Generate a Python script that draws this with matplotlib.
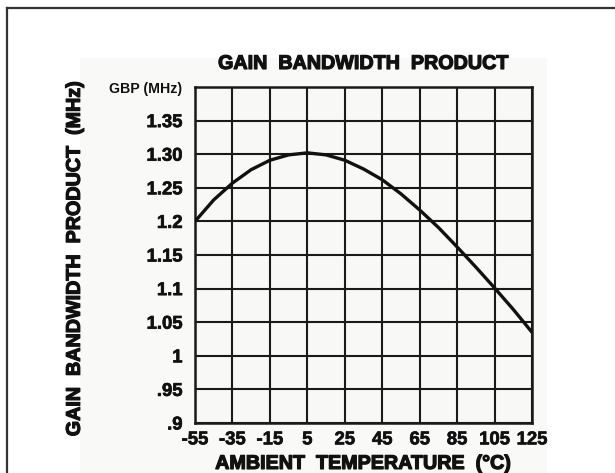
import matplotlib
matplotlib.use("Agg")
import matplotlib.pyplot as plt
import matplotlib.patheffects as pe
from matplotlib.patches import Rectangle

# values
temp_c = [-55, -45, -35, -25, -15, -5, 5, 15, 25, 35, 45, 55, 65, 75, 85, 95, 105, 115, 125]
gbp_mhz = [1.200, 1.232, 1.257, 1.277, 1.291, 1.299, 1.302, 1.299, 1.291, 1.278,
           1.262, 1.241, 1.217, 1.191, 1.162, 1.132, 1.101, 1.069, 1.035]

x_ticks = [-55, -35, -15, 5, 25, 45, 65, 85, 105, 125]
y_ticks = [0.90, 0.95, 1.00, 1.05, 1.10, 1.15, 1.20, 1.25, 1.30, 1.35, 1.40]
y_tick_labels = [".9", ".95", "1", "1.05", "1.1", "1.15", "1.2", "1.25", "1.30", "1.35", "GBP (MHz)"]

plt.rcParams['font.family'] = ['Liberation Sans', 'DejaVu Sans']
plt.rcParams['font.weight'] = 'bold'

W, H = 615, 473
INK = '#111111'
fig = plt.figure(figsize=(W / 100, H / 100), dpi=100)
fig.patch.set_facecolor('white')

# faint scanned-page background and outer figure frame
bg = fig.add_axes([0, 0, 1, 1], zorder=-5)
bg.set_xlim(0, W)
bg.set_ylim(H, 0)
bg.axis('off')
bg.add_patch(Rectangle((80, 58), 467, H - 58, facecolor='#f9f9f7', edgecolor='none'))
bg.plot([7, W], [8, 8], color='#333333', linewidth=1.6)
bg.plot([7, 7], [8, H], color='#333333', linewidth=1.6)

ax = fig.add_axes([195 / W, (H - 423) / H, 337 / W, 336 / H])
ax.set_facecolor('#f8f8f6')

ax.plot(temp_c, gbp_mhz, color=INK, linewidth=2.4, solid_capstyle='butt', zorder=3)

ax.set_xlim(-55, 125)
ax.set_ylim(0.9, 1.4)
ax.set_xticks(x_ticks)
ax.set_xticklabels([str(t) for t in x_ticks])
ax.set_yticks(y_ticks)
ax.set_yticklabels(y_tick_labels)
ax.tick_params(length=0, labelsize=13.3, pad=9, colors=INK)
ax.tick_params(axis='x', pad=6)
ax.get_yticklabels()[-1].set_fontsize(10.2)

ax.grid(True, color='#1a1a1a', linewidth=1.5)
for s in ax.spines.values():
    s.set_color('#1a1a1a')
    s.set_linewidth(1.8)

ax.set_title("GAIN  BANDWIDTH  PRODUCT", fontsize=14.2, fontweight='bold', pad=13, color=INK)
ax.set_xlabel("AMBIENT  TEMPERATURE  (°C)", fontsize=14.2, fontweight='bold', color=INK)
ax.set_ylabel("GAIN  BANDWIDTH  PRODUCT  (MHz)", fontsize=14.2, fontweight='bold', color=INK)
ax.xaxis.set_label_coords(0.5, -0.092)
ax.yaxis.set_label_coords(-0.33, 0.49)

# heavier strokes, like the printed datasheet lettering
for t in [ax.title, ax.xaxis.label, ax.yaxis.label]:
    t.set_path_effects([pe.withStroke(linewidth=0.9, foreground=INK)])
for t in ax.get_xticklabels() + ax.get_yticklabels()[:-1]:
    t.set_path_effects([pe.withStroke(linewidth=0.5, foreground=INK)])

fig.savefig("out.png", dpi=100)
